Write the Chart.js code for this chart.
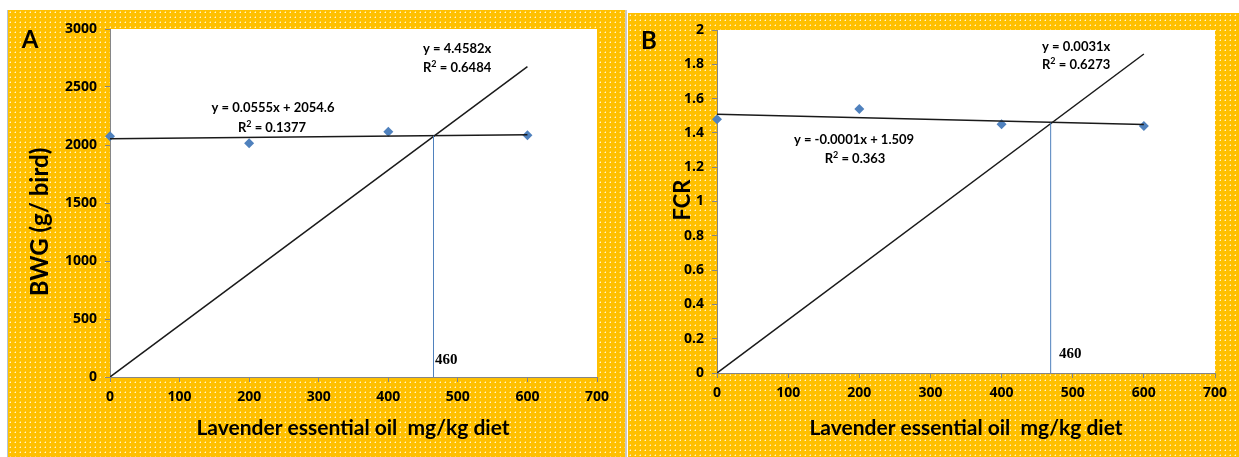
<!DOCTYPE html>
<html>
<head>
<meta charset="utf-8">
<script src="https://cdn.jsdelivr.net/npm/chart.js@4.4.1/dist/chart.umd.min.js"></script>
<style>
  body { margin: 0; background: #fff; width: 1239px; height: 457px; overflow: hidden; position: relative; }
  .panel { position: absolute; }
  #sep { position: absolute; left: 625px; top: 10px; width: 2px; height: 447px; background: #c8c8c8; }
  #edge { position: absolute; left: 7px; top: 10px; width: 1px; height: 447px; background: #b4c4d8; }
</style>
</head>
<body>
<div class="panel" style="left:8px; top:10px;"><canvas id="chartA" width="617" height="447"></canvas></div>
<div id="edge"></div>
<div id="sep"></div>
<div class="panel" style="left:628px; top:13px;"><canvas id="chartB" width="611" height="444"></canvas></div>
<script>
// Werte
const doses = [0, 200, 400, 600];
const bwg = [2075, 2015, 2115, 2085];
const fcr = [1.48, 1.54, 1.45, 1.44];

// Trendlinien (Endpunkte)
const bwgTrend = [{x: 0, y: 2054.6}, {x: 600, y: 2087.9}];
const bwgLine = [{x: 0, y: 0}, {x: 600, y: 2675}];
const bwgCut = [{x: 465, y: 0}, {x: 465, y: 2080}];

const fcrTrend = [{x: 0, y: 1.509}, {x: 600, y: 1.449}];
const fcrLine = [{x: 0, y: 0}, {x: 600, y: 1.86}];
const fcrCut = [{x: 469, y: 0}, {x: 469, y: 1.46}];

const xTicks = [0, 100, 200, 300, 400, 500, 600, 700];

// Hintergrund: orange mit weissen Punkten
function makePattern(ctx) {
    const c = document.createElement('canvas');
    c.width = 5; c.height = 5;
    const p = c.getContext('2d');
    p.fillStyle = '#FFC000';
    p.fillRect(0, 0, 5, 5);
    p.fillStyle = 'rgba(255,255,255,0.8)';
    p.fillRect(2, 2, 1, 1);
    p.fillStyle = 'rgba(255,255,255,0.35)';
    p.fillRect(1, 2, 1, 1);
    p.fillRect(2, 1, 1, 1);
    return ctx.createPattern(c, 'repeat');
}

const decor = {
    id: 'decor',
    beforeDraw(chart) {
        const ctx = chart.ctx;
        const a = chart.chartArea;
        ctx.save();
        ctx.fillStyle = makePattern(ctx);
        ctx.fillRect(0, 0, chart.width, chart.height);
        ctx.fillStyle = '#ffffff';
        ctx.fillRect(a.left, a.top, a.right - a.left, a.bottom - a.top);
        ctx.restore();
    },
    afterDraw(chart, args, opts) {
        const ctx = chart.ctx;
        ctx.save();
        ctx.fillStyle = '#000';
        ctx.textBaseline = 'middle';
        (opts.texts || []).forEach(t => {
            ctx.font = t.font;
            ctx.textAlign = t.align || 'left';
            if (t.rotate) {
                ctx.save();
                ctx.translate(t.x, t.y);
                ctx.rotate(-Math.PI / 2);
                ctx.textAlign = 'center';
                ctx.fillText(t.text, 0, 0);
                ctx.restore();
            } else if (t.sup) {
                // R² mit hochgestellter 2
                const parts = t.text.split('²');
                const w0 = ctx.measureText(parts[0]).width;
                ctx.font = t.supFont;
                const w1 = ctx.measureText('2').width;
                ctx.font = t.font;
                const w2 = ctx.measureText(parts[1]).width;
                let x = t.align === 'center' ? t.x - (w0 + w1 + w2) / 2 : t.x;
                ctx.textAlign = 'left';
                ctx.fillText(parts[0], x, t.y);
                ctx.font = t.supFont;
                ctx.fillText('2', x + w0, t.y - 4);
                ctx.font = t.font;
                ctx.fillText(parts[1], x + w0 + w1, t.y);
            } else {
                ctx.fillText(t.text, t.x, t.y);
            }
        });
        ctx.restore();
    }
};

const eqFont = 'bold 13px Lato';
const supFont = 'bold 9px Lato';
const titleFont = 'bold 21px Lato';
const tickFont = { family: '"Open Sans"', size: 14, weight: 'bold' };

function makeChart(id, pts, trend, line, cut, yMax, yStep, yWidth, pad, texts) {
    const ctx = document.getElementById(id).getContext('2d');
    return new Chart(ctx, {
        type: 'scatter',
        data: {
            datasets: [
                { data: cut, showLine: true, borderColor: '#4F81BD', borderWidth: 1, pointRadius: 0 },
                { data: line, showLine: true, borderColor: '#1a1a1a', borderWidth: 1.5, pointRadius: 0 },
                { data: trend, showLine: true, borderColor: '#1a1a1a', borderWidth: 1.5, pointRadius: 0 },
                {
                    data: doses.map((d, i) => ({x: d, y: pts[i]})),
                    pointStyle: 'rectRot', pointRadius: 5, pointHoverRadius: 5, clip: false,
                    backgroundColor: '#4F81BD', borderColor: '#4F81BD', borderWidth: 0
                }
            ]
        },
        options: {
            responsive: false,
            animation: false,
            layout: { padding: pad },
            plugins: {
                legend: { display: false },
                tooltip: { enabled: false },
                decor: { texts: texts }
            },
            scales: {
                x: {
                    type: 'linear', min: 0, max: 700,
                    afterBuildTicks: s => { s.ticks = xTicks.map(v => ({value: v})); },
                    afterFit: s => { s.height = pad.xHeight; },
                    grid: { drawOnChartArea: false, tickLength: 5, color: '#868686' },
                    border: { color: '#868686', width: 1 },
                    ticks: { color: '#000', padding: 7, font: tickFont }
                },
                y: {
                    min: 0, max: yMax,
                    ticks: {
                        stepSize: yStep, color: '#000', padding: 8, font: tickFont,
                        callback: v => String(+v.toFixed(1))
                    },
                    afterFit: s => { s.width = yWidth; },
                    grid: { drawOnChartArea: false, tickLength: 5, color: '#868686' },
                    border: { color: '#868686', width: 1 }
                }
            }
        },
        plugins: [decor]
    });
}

makeChart('chartA', bwg, bwgTrend, bwgLine, bwgCut, 3000, 500, 102,
    { left: 0, top: 19, right: 28, bottom: 0, xHeight: 80 },
    [
        { text: 'A', x: 22, y: 30, font: 'bold 24px Lato', align: 'center' },
        { text: 'BWG (g/ bird)', x: 32, y: 212, font: 'bold 24px Lato', rotate: true },
        { text: 'Lavender essential oil  mg/kg diet', x: 345, y: 418, font: titleFont, align: 'center' },
        { text: 'y = 4.4582x', x: 415, y: 39, font: eqFont },
        { text: 'R² = 0.6484', x: 415, y: 58, font: eqFont, supFont: supFont, sup: true },
        { text: 'y = 0.0555x + 2054.6', x: 265, y: 98, font: eqFont, align: 'center' },
        { text: 'R² = 0.1377', x: 264, y: 118, font: eqFont, supFont: supFont, sup: true, align: 'center' },
        { text: '460', x: 427, y: 350, font: 'bold 15px "Liberation Serif"' }
    ]);

makeChart('chartB', fcr, fcrTrend, fcrLine, fcrCut, 2, 0.2, 89,
    { left: 0, top: 17, right: 24, bottom: 0, xHeight: 84 },
    [
        { text: 'B', x: 21, y: 28, font: 'bold 24px Lato', align: 'center' },
        { text: 'FCR', x: 55, y: 187, font: 'bold 22px Lato', rotate: true },
        { text: 'Lavender essential oil  mg/kg diet', x: 338, y: 415, font: titleFont, align: 'center' },
        { text: 'y = 0.0031x', x: 414, y: 34, font: eqFont },
        { text: 'R² = 0.6273', x: 414, y: 52, font: eqFont, supFont: supFont, sup: true },
        { text: 'y = -0.0001x + 1.509', x: 226, y: 127, font: eqFont, align: 'center' },
        { text: 'R² = 0.363', x: 227, y: 146, font: eqFont, supFont: supFont, sup: true, align: 'center' },
        { text: '460', x: 431, y: 341, font: 'bold 15px "Liberation Serif"' }
    ]);
</script>
</body>
</html>
